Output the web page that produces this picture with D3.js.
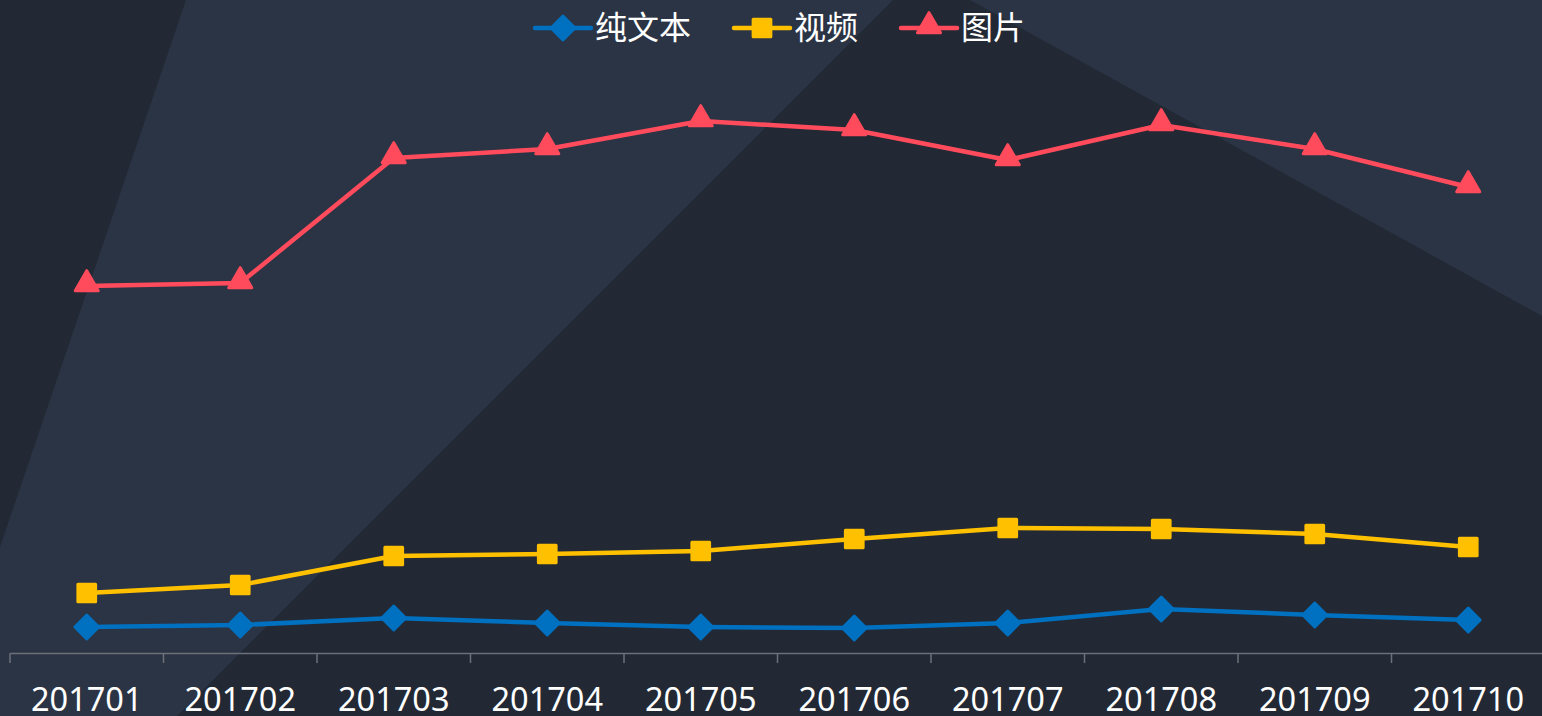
<!DOCTYPE html>
<html>
<head>
<meta charset="utf-8">
<script src="https://cdn.jsdelivr.net/npm/d3@7"></script>
<style>
  html, body { margin: 0; padding: 0; background: #2b3444; overflow: hidden; }
  svg { display: block; }
</style>
</head>
<body>
<div id="app"></div>
<script>
const months = ['201701', '201702', '201703', '201704', '201705', '201706', '201707', '201708', '201709', '201710'];
const textValues = [26, 28, 35, 30, 26, 25, 30, 44, 38, 33];
const videoValues = [60, 68, 97, 99, 102, 114, 125, 124, 119, 106];
const imageValues = [367, 370, 495, 504, 532, 523, 493, 528, 504, 466];
const seriesNames = ['纯文本', '视频', '图片'];
const seriesColors = ['#0070c0', '#ffc000', '#ff4b5c'];
const seriesShapes = [d3.symbolDiamond2, d3.symbolSquare2, d3.symbolTriangle2];

const w = 1542, h = 716;
const margin = { left: 10, right: -3, bottom: 63, top: 53 };

const svg = d3.select('#app').append('svg')
  .attr('width', w)
  .attr('height', h);

//////////BACKGROUND//////////
svg.append('rect').attr('width', w).attr('height', h).attr('fill', '#2b3444');
svg.append('path')
  .attr('d', `M0,0 L186,0 L0,547 Z`)
  .attr('fill', '#222934');
svg.append('path')
  .attr('d', `M893,0 L970,0 L${w},316 L${w},${h} L177,${h} Z`)
  .attr('fill', '#222934');

//////////SCALES//////////
const x = d3.scaleBand()
  .domain(months)
  .range([margin.left, w - margin.right]);

const y = d3.scaleLinear()
  .domain([0, 600])
  .range([h - margin.bottom, margin.top]);

const axisY = h - margin.bottom;

const xAxis = svg.append('g')
  .attr('transform', `translate(0,${axisY})`)
  .call(d3.axisBottom(x).tickSize(0).tickPadding(35));

xAxis.select('.domain').attr('stroke', '#6e7079').attr('stroke-width', 1.5);
xAxis.selectAll('text')
  .attr('fill', '#ffffff')
  .attr('font-size', 32.5)
  .attr('font-family', '"Noto Sans", "Noto Sans CJK SC", sans-serif');

// band boundary ticks
svg.append('g')
  .selectAll('line')
  .data(months)
  .join('line')
  .attr('x1', d => x(d))
  .attr('x2', d => x(d))
  .attr('y1', axisY)
  .attr('y2', axisY + 10)
  .attr('stroke', '#6e7079')
  .attr('stroke-width', 1.5);

//////////LINES//////////
const allSeries = [textValues, videoValues, imageValues];
const cx = d => x(d) + x.bandwidth() / 2;
const markerSize = [360, 400, 380];

const line = d3.line()
  .x((d, i) => cx(months[i]))
  .y(d => y(d));

// draw in order: image, video, text (text on top)
[2, 1, 0].forEach(k => {
  const g = svg.append('g');
  g.append('path')
    .datum(allSeries[k])
    .attr('d', line)
    .attr('fill', 'none')
    .attr('stroke', seriesColors[k])
    .attr('stroke-width', 4.5)
    .attr('stroke-linejoin', 'round');

  g.selectAll('path.marker')
    .data(allSeries[k])
    .join('path')
    .attr('class', 'marker')
    .attr('d', d3.symbol().type(seriesShapes[k]).size(markerSize[k]))
    .attr('transform', (d, i) => `translate(${cx(months[i])},${y(d) + (k === 2 ? -2 : 0)})`)
    .attr('fill', seriesColors[k])
    .attr('stroke', seriesColors[k])
    .attr('stroke-width', 3)
    .attr('stroke-linejoin', 'round');
});

//////////LEGEND//////////
const legend = svg.append('g');
const symW = 56, gap = 4, itemGap = 43;
let cursor = 0;
seriesNames.forEach((name, k) => {
  const item = legend.append('g');
  item.append('line')
    .attr('x1', 0).attr('x2', symW)
    .attr('y1', 0).attr('y2', 0)
    .attr('stroke', seriesColors[k])
    .attr('stroke-width', 4.5)
    .attr('stroke-linecap', 'round');
  item.append('path')
    .attr('d', d3.symbol().type(seriesShapes[k]).size(markerSize[k]))
    .attr('transform', `translate(${symW / 2},${k === 2 ? -2 : 0})`)
    .attr('fill', seriesColors[k])
    .attr('stroke', seriesColors[k])
    .attr('stroke-width', 3)
    .attr('stroke-linejoin', 'round');
  const t = item.append('text')
    .attr('x', symW + gap)
    .attr('dy', '0.35em')
    .attr('fill', '#ffffff')
    .attr('font-size', 32)
    .attr('font-family', '"Noto Sans CJK SC", sans-serif')
    .text(name);
  const tw = t.node().getComputedTextLength();
  item.attr('transform', `translate(${cursor},28)`);
  cursor += symW + gap + tw + itemGap;
});
const totalW = cursor - itemGap;
legend.attr('transform', `translate(${780 - totalW / 2},0)`);
</script>
</body>
</html>
